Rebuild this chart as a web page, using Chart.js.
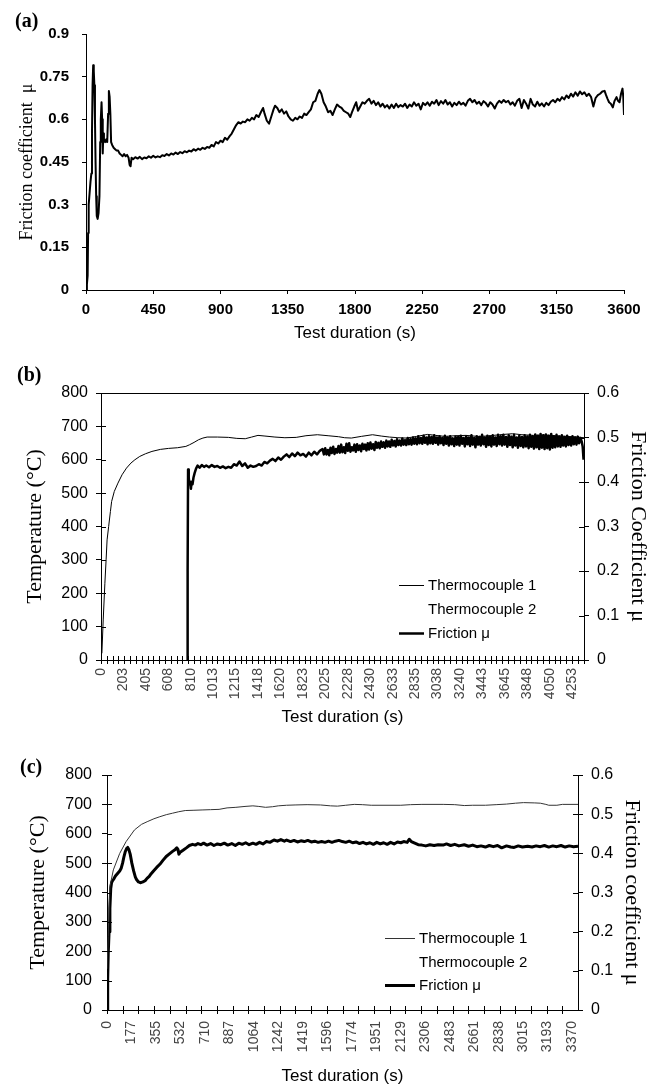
<!DOCTYPE html>
<html>
<head>
<meta charset="utf-8">
<title>Friction coefficient and temperature</title>
<script src="https://cdn.jsdelivr.net/npm/chart.js@4.4.1/dist/chart.umd.min.js"></script>
<style>
  body { margin: 0; background: #fff; }
  #page { position: relative; width: 663px; height: 1088px; }
  canvas { position: absolute; left: 0; }
  .tag { position: absolute; font: bold 20px 'Times New Roman', 'Liberation Serif', serif; line-height: 20px; }
</style>
</head>
<body>
<div id="page">
  <canvas id="chartA" width="663" height="345" style="top:0"></canvas>
  <canvas id="chartB" width="663" height="385" style="top:345px"></canvas>
  <canvas id="chartC" width="663" height="358" style="top:730px"></canvas>
  <div class="tag" style="left:15px;top:10px">(a)</div>
  <div class="tag" style="left:17px;top:364px">(b)</div>
  <div class="tag" style="left:20px;top:756px">(c)</div>
</div>
<script>
// Fontes
const SANS = "Arial, 'Liberation Sans', sans-serif";
const SERIF = "'Times New Roman', 'Liberation Serif', serif";
Chart.defaults.font.family = SANS;
Chart.defaults.color = '#000';

// (a) coeficiente de atrito
const A_XTICKS = [0, 450, 900, 1350, 1800, 2250, 2700, 3150, 3600];
const A_YTICKS = [0, 0.15, 0.3, 0.45, 0.6, 0.75, 0.9];
const A_TIME = [0, 6, 11, 14, 18, 24, 30, 36, 40, 44, 48, 52, 56, 60, 64, 68, 72, 78, 84, 90, 95, 99, 104, 108, 112, 116, 120, 128, 136, 142, 148, 153, 158, 163, 168, 175, 185, 195, 205, 215, 225, 235, 245, 255, 265, 275, 285, 292, 298, 305, 315, 330, 345, 360, 375, 390, 405, 420, 435, 450, 465, 480, 495, 510, 525, 540, 555, 570, 585, 600, 615, 630, 645, 660, 675, 690, 705, 720, 735, 750, 765, 780, 795, 810, 825, 840, 855, 870, 885, 900, 915, 930, 945, 960, 975, 990, 1005, 1020, 1035, 1050, 1065, 1080, 1095, 1110, 1125, 1140, 1155, 1170, 1185, 1195, 1210, 1225, 1240, 1255, 1265, 1280, 1295, 1310, 1325, 1340, 1355, 1370, 1385, 1400, 1415, 1430, 1445, 1460, 1475, 1490, 1505, 1520, 1535, 1550, 1562, 1575, 1590, 1605, 1620, 1635, 1650, 1665, 1680, 1695, 1710, 1725, 1740, 1755, 1768, 1780, 1795, 1808, 1820, 1835, 1850, 1865, 1880, 1895, 1910, 1925, 1940, 1955, 1970, 1985, 2000, 2015, 2030, 2045, 2060, 2075, 2090, 2105, 2120, 2135, 2150, 2165, 2180, 2195, 2210, 2225, 2240, 2255, 2270, 2285, 2300, 2315, 2330, 2345, 2360, 2375, 2390, 2405, 2420, 2435, 2450, 2465, 2480, 2495, 2510, 2525, 2540, 2555, 2570, 2585, 2600, 2615, 2630, 2645, 2660, 2675, 2690, 2705, 2720, 2735, 2750, 2765, 2780, 2795, 2810, 2825, 2840, 2855, 2870, 2885, 2900, 2915, 2930, 2945, 2960, 2975, 2990, 3005, 3020, 3035, 3050, 3065, 3080, 3095, 3110, 3125, 3140, 3155, 3170, 3185, 3200, 3215, 3230, 3245, 3260, 3275, 3290, 3305, 3320, 3335, 3350, 3365, 3380, 3395, 3410, 3425, 3440, 3455, 3470, 3480, 3490, 3500, 3512, 3525, 3537, 3550, 3560, 3570, 3580, 3590, 3595, 3600];
const A_MU = [0, 0.02, 0.05, 0.2, 0.3, 0.34, 0.38, 0.41, 0.55, 0.72, 0.79, 0.77, 0.72, 0.6, 0.45, 0.33, 0.26, 0.25, 0.27, 0.33, 0.52, 0.6, 0.66, 0.6, 0.48, 0.55, 0.53, 0.52, 0.53, 0.52, 0.62, 0.7, 0.68, 0.62, 0.52, 0.51, 0.5, 0.495, 0.49, 0.49, 0.48, 0.475, 0.47, 0.478, 0.47, 0.475, 0.465, 0.44, 0.435, 0.465, 0.46, 0.467, 0.462, 0.468, 0.46, 0.466, 0.463, 0.47, 0.465, 0.472, 0.466, 0.47, 0.467, 0.474, 0.471, 0.478, 0.473, 0.48, 0.476, 0.483, 0.478, 0.485, 0.481, 0.488, 0.484, 0.49, 0.487, 0.495, 0.49, 0.497, 0.493, 0.5, 0.496, 0.503, 0.5, 0.51, 0.505, 0.52, 0.515, 0.525, 0.52, 0.535, 0.528, 0.54, 0.55, 0.565, 0.58, 0.59, 0.585, 0.592, 0.59, 0.6, 0.595, 0.605, 0.6, 0.615, 0.608, 0.625, 0.64, 0.62, 0.595, 0.585, 0.61, 0.635, 0.648, 0.64, 0.625, 0.635, 0.62, 0.628, 0.61, 0.6, 0.595, 0.605, 0.6, 0.61, 0.605, 0.62, 0.615, 0.625, 0.635, 0.66, 0.665, 0.69, 0.703, 0.69, 0.66, 0.645, 0.625, 0.63, 0.615, 0.635, 0.652, 0.645, 0.64, 0.63, 0.625, 0.62, 0.608, 0.625, 0.645, 0.66, 0.63, 0.645, 0.66, 0.655, 0.665, 0.672, 0.655, 0.665, 0.65, 0.66, 0.645, 0.655, 0.642, 0.65, 0.638, 0.652, 0.64, 0.655, 0.643, 0.65, 0.645, 0.655, 0.64, 0.652, 0.645, 0.66, 0.648, 0.655, 0.635, 0.658, 0.65, 0.66, 0.648, 0.662, 0.655, 0.668, 0.65, 0.664, 0.655, 0.668, 0.652, 0.66, 0.645, 0.658, 0.65, 0.662, 0.652, 0.658, 0.648, 0.665, 0.672, 0.66, 0.668, 0.655, 0.662, 0.65, 0.664, 0.657, 0.645, 0.66, 0.652, 0.638, 0.655, 0.665, 0.658, 0.668, 0.66, 0.665, 0.652, 0.66, 0.648, 0.665, 0.672, 0.64, 0.668, 0.655, 0.638, 0.672, 0.652, 0.645, 0.662, 0.648, 0.656, 0.645, 0.658, 0.65, 0.662, 0.668, 0.66, 0.672, 0.665, 0.678, 0.67, 0.684, 0.675, 0.69, 0.68, 0.695, 0.683, 0.698, 0.688, 0.695, 0.682, 0.69, 0.678, 0.645, 0.675, 0.685, 0.69, 0.698, 0.7, 0.685, 0.672, 0.66, 0.655, 0.642, 0.665, 0.678, 0.665, 0.66, 0.69, 0.708, 0.68, 0.615];

// (b) temperatura e atrito
const B_XLABELS = [0, 203, 405, 608, 810, 1013, 1215, 1418, 1620, 1823, 2025, 2228, 2430, 2633, 2835, 3038, 3240, 3443, 3645, 3848, 4050, 4253];
const B_TEMP_TICKS = [0, 100, 200, 300, 400, 500, 600, 700, 800];
const B_MU_TICKS = [0, 0.1, 0.2, 0.3, 0.4, 0.5, 0.6];
const B_TC_TIME = [8, 20, 35, 46, 55, 69, 85, 96, 120, 153, 190, 230, 270, 306, 350, 402, 460, 536, 610, 690, 766, 800, 840, 881, 920, 958, 1050, 1150, 1226, 1302, 1360, 1417, 1480, 1570, 1660, 1762, 1850, 1953, 2050, 2145, 2200, 2260, 2350, 2451, 2530, 2604, 2680, 2758, 2850, 2949, 3020, 3102, 3200, 3294, 3400, 3485, 3600, 3715, 3800, 3907, 4000, 4098, 4200, 4300, 4360];
const B_TC1 = [20, 120, 230, 300, 360, 400, 445, 475, 505, 530, 555, 575, 590, 600, 610, 618, 625, 631, 634, 636, 640, 645, 652, 660, 665, 668, 668, 667, 664, 663, 668, 673, 671, 668, 666, 667, 672, 675, 672, 669, 666, 665, 670, 675, 671, 668, 666, 665, 670, 676, 673, 670, 672, 673, 670, 671, 675, 678, 675, 673, 674, 672, 670, 668, 666];
const B_MU_TIME = [778, 782, 786, 792, 798, 806, 812, 818, 826, 835, 845, 858, 872, 890, 910, 930, 950, 975, 1000, 1025, 1050, 1075, 1100, 1125, 1150, 1175, 1200, 1225, 1250, 1275, 1300, 1325, 1350, 1375, 1400, 1425, 1450, 1475, 1500, 1525, 1550, 1575, 1600, 1625, 1650, 1675, 1700, 1725, 1750, 1775, 1800, 1825, 1850, 1875, 1900, 1925, 1950, 1975,
  2000, 2012, 2024, 2036, 2048, 2060, 2072, 2084, 2096, 2108, 2120, 2132, 2144, 2156, 2168, 2180, 2192, 2204, 2216, 2228, 2240, 2252, 2264, 2276, 2288, 2300, 2312, 2324, 2336, 2348, 2360, 2372, 2384, 2396,
  2408, 2420, 2432, 2444, 2456, 2468, 2480, 2492, 2504, 2516, 2528, 2540, 2552, 2564, 2576, 2588, 2600, 2612, 2624, 2636, 2648, 2660, 2672, 2684, 2696, 2708, 2720, 2732, 2744, 2756, 2768, 2780, 2792,
  2804, 2816, 2828, 2840, 2852, 2864, 2876, 2888, 2900, 2912, 2924, 2936, 2948, 2960, 2972, 2984, 2996, 3008, 3020, 3032, 3044, 3056, 3068, 3080, 3092, 3104, 3116, 3128, 3140, 3152, 3164, 3176, 3188, 3200,
  3212, 3224, 3236, 3248, 3260, 3272, 3284, 3296, 3308, 3320, 3332, 3344, 3356, 3368, 3380, 3392, 3404, 3416, 3428, 3440, 3452, 3464, 3476, 3488, 3500, 3512, 3524, 3536, 3548, 3560, 3572, 3584, 3596,
  3608, 3620, 3632, 3644, 3656, 3668, 3680, 3692, 3704, 3716, 3728, 3740, 3752, 3764, 3776, 3788, 3800, 3812, 3824, 3836, 3848, 3860, 3872, 3884, 3896, 3908, 3920, 3932, 3944, 3956, 3968, 3980, 3992,
  4004, 4016, 4028, 4040, 4052, 4064, 4076, 4088, 4100, 4112, 4124, 4136, 4148, 4160, 4172, 4184, 4196, 4208, 4220, 4232, 4244, 4256, 4268, 4280, 4292, 4304, 4316, 4328, 4340, 4348, 4356];
const B_MU = [0, 0.2, 0.428, 0.41, 0.395, 0.4, 0.385, 0.4, 0.395, 0.41, 0.42, 0.43, 0.437, 0.432, 0.438, 0.434, 0.437, 0.433, 0.438, 0.434, 0.436, 0.432, 0.435, 0.431, 0.434, 0.432, 0.44, 0.437, 0.446, 0.436, 0.442, 0.432, 0.437, 0.434, 0.436, 0.44, 0.437, 0.445, 0.442, 0.448, 0.452, 0.447, 0.455, 0.45, 0.457, 0.462, 0.456, 0.464, 0.458, 0.466, 0.46, 0.463, 0.457, 0.466, 0.46, 0.468, 0.462, 0.47,
  0.474, 0.462, 0.476, 0.462, 0.472, 0.46, 0.477, 0.465, 0.479, 0.463, 0.474, 0.466, 0.481, 0.466, 0.484, 0.467, 0.478, 0.465, 0.486, 0.47, 0.487, 0.468, 0.478, 0.471, 0.484, 0.468, 0.485, 0.472, 0.482, 0.469, 0.486, 0.474, 0.484, 0.471,
  0.487, 0.473, 0.489, 0.475, 0.485, 0.472, 0.49, 0.477, 0.488, 0.476, 0.491, 0.479, 0.489, 0.477, 0.493, 0.48, 0.491, 0.479, 0.495, 0.482, 0.492, 0.48, 0.496, 0.483, 0.493, 0.482, 0.498, 0.484, 0.494, 0.483, 0.499, 0.485, 0.496,
  0.484, 0.5, 0.486, 0.498, 0.485, 0.503, 0.487, 0.499, 0.486, 0.504, 0.488, 0.5, 0.485, 0.503, 0.487, 0.501, 0.486, 0.505, 0.488, 0.5, 0.484, 0.503, 0.487, 0.499, 0.483, 0.504, 0.486, 0.5, 0.482, 0.503, 0.485, 0.498, 0.481, 0.502,
  0.484, 0.501, 0.482, 0.504, 0.486, 0.499, 0.48, 0.503, 0.485, 0.5, 0.481, 0.505, 0.484, 0.499, 0.478, 0.503, 0.484, 0.501, 0.482, 0.506, 0.485, 0.5, 0.479, 0.504, 0.483, 0.502, 0.48, 0.505, 0.484, 0.5, 0.481, 0.506, 0.485,
  0.503, 0.482, 0.506, 0.484, 0.501, 0.479, 0.505, 0.483, 0.502, 0.478, 0.506, 0.482, 0.5, 0.477, 0.504, 0.481, 0.501, 0.478, 0.505, 0.48, 0.502, 0.476, 0.506, 0.479, 0.503, 0.475, 0.507, 0.478, 0.504, 0.474, 0.508, 0.477, 0.505,
  0.474, 0.507, 0.476, 0.504, 0.473, 0.508, 0.477, 0.503, 0.478, 0.506, 0.48, 0.502, 0.479, 0.505, 0.482, 0.501, 0.48, 0.504, 0.483, 0.5, 0.482, 0.503, 0.485, 0.5, 0.484, 0.502, 0.487, 0.499, 0.49, 0.48, 0.45];

// (c) temperatura e atrito
const C_XLABELS = [0, 177, 355, 532, 710, 887, 1064, 1242, 1419, 1596, 1774, 1951, 2129, 2306, 2483, 2661, 2838, 3015, 3193, 3370];
const C_TEMP_TICKS = [0, 100, 200, 300, 400, 500, 600, 700, 800];
const C_MU_TICKS = [0, 0.1, 0.2, 0.3, 0.4, 0.5, 0.6];
const C_TC_TIME = [0, 9, 21, 46, 92, 138, 199, 250, 291, 340, 383, 430, 475, 520, 567, 630, 689, 750, 812, 870, 934, 1000, 1057, 1100, 1149, 1200, 1241, 1300, 1363, 1450, 1547, 1620, 1670, 1730, 1792, 1850, 1915, 2000, 2129, 2200, 2282, 2436, 2520, 2589, 2650, 2742, 2820, 2895, 2960, 3018, 3100, 3140, 3180, 3201, 3260, 3300, 3413];
const C_TC1 = [140, 250, 420, 477, 533, 573, 613, 632, 641, 651, 658, 665, 670, 675, 679, 680, 681, 682, 683, 688, 690, 693, 695, 693, 690, 692, 695, 697, 698, 699, 698, 695, 694, 697, 700, 699, 697, 697, 697, 699, 700, 700, 699, 696, 697, 697, 699, 701, 704, 706, 705, 704, 700, 697, 697, 700, 700];
const C_MU_TIME = [0, 5, 9, 15, 21, 27, 33, 40, 50, 61, 75, 92, 103, 113, 122, 132, 142, 150, 158, 168, 180, 193, 205, 214, 228, 245, 260, 276, 290, 306, 320, 337, 360, 383, 405, 429, 450, 475, 495, 506, 514, 521, 530, 551, 575, 597, 620, 640, 659, 680, 700, 725, 751, 775, 800, 825, 850, 875, 904, 930, 955, 980, 1005, 1030, 1057, 1080, 1105, 1130, 1155, 1180, 1210, 1235, 1260, 1285, 1302, 1330, 1355, 1380, 1405, 1430, 1455, 1480, 1505, 1530, 1555, 1580, 1605, 1630, 1655, 1680, 1705, 1730, 1755, 1780, 1805, 1830, 1855, 1880, 1905, 1930, 1955, 1980, 2005, 2030, 2055, 2080, 2105, 2129, 2150, 2175, 2190, 2205, 2230, 2255, 2282, 2310, 2340, 2370, 2400, 2436, 2460, 2490, 2520, 2550, 2589, 2620, 2650, 2680, 2710, 2742, 2770, 2800, 2830, 2860, 2895, 2925, 2950, 2980, 3010, 3048, 3080, 3110, 3140, 3170, 3201, 3230, 3260, 3290, 3320, 3350, 3380, 3413];
const C_MU = [0, 0.08, 0.145, 0.2, 0.26, 0.31, 0.325, 0.33, 0.335, 0.342, 0.348, 0.355, 0.362, 0.375, 0.39, 0.404, 0.412, 0.415, 0.41, 0.398, 0.375, 0.355, 0.34, 0.333, 0.327, 0.325, 0.327, 0.33, 0.336, 0.341, 0.348, 0.355, 0.364, 0.372, 0.382, 0.392, 0.398, 0.405, 0.41, 0.414, 0.41, 0.398, 0.403, 0.408, 0.414, 0.42, 0.423, 0.421, 0.425, 0.422, 0.426, 0.421, 0.425, 0.42, 0.424, 0.422, 0.426, 0.421, 0.425, 0.42, 0.426, 0.423, 0.427, 0.422, 0.426, 0.423, 0.428, 0.424, 0.43, 0.428, 0.434, 0.431, 0.435, 0.431, 0.434, 0.43, 0.433, 0.429, 0.432, 0.43, 0.433, 0.429, 0.431, 0.428, 0.43, 0.428, 0.431, 0.428, 0.431, 0.433, 0.43, 0.428, 0.431, 0.427, 0.429, 0.425, 0.428, 0.424, 0.427, 0.423, 0.428, 0.424, 0.427, 0.423, 0.428, 0.424, 0.429, 0.427, 0.43, 0.428, 0.436, 0.43, 0.426, 0.422, 0.421, 0.419, 0.422, 0.42, 0.422, 0.421, 0.424, 0.42, 0.423, 0.419, 0.422, 0.418, 0.421, 0.417, 0.419, 0.416, 0.42, 0.417, 0.42, 0.414, 0.419, 0.416, 0.415, 0.419, 0.416, 0.418, 0.416, 0.419, 0.417, 0.42, 0.416, 0.419, 0.417, 0.42, 0.416, 0.419, 0.417, 0.418];

// Montar pontos {x, y}
function pts(xs, ys) {
  return xs.map((x, i) => ({ x: x, y: ys[i] }));
}

// Ticks fixos a partir de uma lista
function fixed(vals) {
  return function (scale) { scale.ticks = vals.map(v => ({ value: v })); };
}

// Legenda dentro da area do grafico
const insideLegend = {
  id: 'insideLegend',
  afterDraw(chart, args, opts) {
    const ctx = chart.ctx;
    const a = chart.chartArea;
    ctx.save();
    ctx.font = opts.font;
    ctx.textBaseline = 'middle';
    ctx.fillStyle = '#000';
    chart.data.datasets.forEach((ds, i) => {
      const x = a.left + opts.x;
      const y = Math.round(a.top + opts.y + i * opts.gap) + 0.5;
      ctx.strokeStyle = ds.borderColor;
      ctx.lineWidth = ds.borderWidth;
      ctx.beginPath();
      ctx.moveTo(x, y);
      ctx.lineTo(x + opts.len, y);
      ctx.stroke();
      ctx.fillText(ds.label, x + opts.len + 4, y);
    });
    ctx.restore();
  }
};

// Marcas cruzadas nos eixos e borda superior
const crossTicks = {
  id: 'crossTicks',
  afterDraw(chart, args, opts) {
    const ctx = chart.ctx;
    const a = chart.chartArea;
    ctx.save();
    ctx.strokeStyle = '#000';
    ctx.lineWidth = 1;
    ctx.beginPath();
    opts.yAxes.forEach(id => {
      const s = chart.scales[id];
      const left = s.position === 'left';
      const edge = left ? a.left : a.right;
      s.ticks.forEach(t => {
        const p = Math.round(s.getPixelForValue(t.value)) + 0.5;
        ctx.moveTo(edge, p);
        ctx.lineTo(edge + (left ? opts.inner : -opts.inner), p);
      });
    });
    const sx = chart.scales.x;
    for (let v = 0; v <= sx.max + 0.001; v += opts.xStep) {
      const p = Math.round(sx.getPixelForValue(v)) + 0.5;
      ctx.moveTo(p, a.bottom - opts.xLen);
      ctx.lineTo(p, a.bottom + opts.xLen);
    }
    if (opts.topBorder) {
      ctx.moveTo(a.left, a.top + 0.5);
      ctx.lineTo(a.right, a.top + 0.5);
    }
    ctx.stroke();
    ctx.restore();
  }
};

// Grafico (a)
new Chart('chartA', {
  type: 'line',
  data: {
    datasets: [{
      label: 'Friction coefficient',
      data: pts(A_TIME, A_MU),
      borderColor: '#000',
      borderWidth: 2,
      borderJoinStyle: 'round',
      pointRadius: 0,
      tension: 0
    }]
  },
  options: {
    responsive: false,
    animation: false,
    events: [],
    layout: { padding: { top: 34, right: 39, left: 0, bottom: 0 } },
    plugins: { legend: { display: false }, tooltip: { enabled: false } },
    scales: {
      x: {
        type: 'linear', min: 0, max: 3600,
        afterBuildTicks: fixed(A_XTICKS),
        afterFit: s => { s.height = 55; },
        grid: { drawOnChartArea: false, tickLength: 4, color: '#000' },
        border: { color: '#000' },
        ticks: { font: { size: 15, weight: 'bold' }, padding: 7, maxRotation: 0, autoSkip: false, callback: v => String(v) },
        title: { display: true, text: 'Test duration (s)', font: { size: 17 }, padding: { bottom: 1 } }
      },
      y: {
        min: 0, max: 0.9,
        afterBuildTicks: fixed(A_YTICKS),
        afterFit: s => { s.width = 86; },
        grid: { drawOnChartArea: false, tickLength: 4, color: '#000' },
        border: { color: '#000' },
        ticks: { font: { size: 15, weight: 'bold' }, padding: 13, callback: v => String(v) },
        title: { display: true, text: 'Friction coefficient  μ', font: { family: SERIF, size: 18 }, padding: { top: 16 } }
      }
    }
  }
});

// Opcoes comuns de (b) e (c)
function dualChart(id, cfg) {
  return new Chart(id, {
    type: 'line',
    data: {
      datasets: [
        { label: 'Thermocouple 1', data: pts(cfg.tcTime, cfg.tc1), yAxisID: 'y', borderColor: cfg.tcColor, borderWidth: 1, pointRadius: 0, tension: 0 },
        { label: 'Thermocouple 2', data: [], yAxisID: 'y', borderColor: '#fff', borderWidth: 1, pointRadius: 0 },
        { label: 'Friction μ', data: pts(cfg.muTime, cfg.mu), yAxisID: 'y1', borderColor: '#000', borderWidth: cfg.muWidth, borderJoinStyle: 'round', pointRadius: 0, tension: 0 }
      ]
    },
    options: {
      responsive: false,
      animation: false,
      events: [],
      layout: { padding: { top: cfg.top, right: 0, left: 0, bottom: 0 } },
      plugins: {
        legend: { display: false },
        tooltip: { enabled: false },
        insideLegend: cfg.legend,
        crossTicks: cfg.cross
      },
      scales: {
        x: {
          type: 'linear', min: 0, max: cfg.xMax,
          afterBuildTicks: fixed(cfg.xLabels),
          afterFit: s => { s.height = cfg.xHeight; },
          grid: { display: false },
          border: { color: '#000' },
          ticks: { font: { size: 14 }, color: '#444', padding: cfg.xPad, minRotation: 90, maxRotation: 90, autoSkip: false, callback: v => String(v) },
          title: { display: true, text: 'Test duration (s)', font: { size: 17 }, padding: { bottom: cfg.titlePad } }
        },
        y: {
          position: 'left', min: 0, max: 800,
          afterBuildTicks: fixed(cfg.tempTicks),
          afterFit: s => { s.width = cfg.left; },
          grid: { drawOnChartArea: false, tickLength: 5, color: '#000' },
          border: { color: '#000' },
          ticks: { font: { size: 16 }, padding: cfg.yPad },
          title: { display: true, text: 'Temperature (°C)', font: { family: SERIF, size: 22 }, padding: { top: cfg.leftTitle } }
        },
        y1: {
          position: 'right', min: 0, max: 0.6,
          afterBuildTicks: fixed(cfg.muTicks),
          afterFit: s => { s.width = cfg.right; },
          grid: { drawOnChartArea: false, tickLength: 5, color: '#000' },
          border: { color: '#000' },
          ticks: { font: { size: 16 }, padding: 8, callback: v => String(v) },
          title: { display: true, text: cfg.rightTitle, font: { family: SERIF, size: 22 }, padding: { top: cfg.rightTitlePad } }
        }
      }
    },
    plugins: [insideLegend, crossTicks]
  });
}

// Grafico (b)
dualChart('chartB', {
  tcTime: B_TC_TIME, tc1: B_TC1, tcColor: '#000',
  muTime: B_MU_TIME, mu: B_MU, muWidth: 2.5,
  xLabels: B_XLABELS, tempTicks: B_TEMP_TICKS, muTicks: B_MU_TICKS,
  xMax: 4360, top: 48, xHeight: 70, xPad: 0, titlePad: 2,
  left: 101, right: 79, yPad: 8, leftTitle: 22,
  rightTitle: 'Friction Coefficient μ', rightTitlePad: 12,
  legend: { x: 298, y: 192, gap: 24, len: 25, font: '15px ' + SANS },
  cross: { yAxes: ['y', 'y1'], inner: 5, xStep: 52.5, xLen: 4, topBorder: true }
});

// Grafico (c)
dualChart('chartC', {
  tcTime: C_TC_TIME, tc1: C_TC1, tcColor: '#333',
  muTime: C_MU_TIME, mu: C_MU, muWidth: 3,
  xLabels: C_XLABELS, tempTicks: C_TEMP_TICKS, muTicks: C_MU_TICKS,
  xMax: 3413, top: 45, xHeight: 78, xPad: 3, titlePad: 1,
  left: 107, right: 85, yPad: 10, leftTitle: 25,
  rightTitle: 'Friction coefficient μ', rightTitlePad: 18,
  legend: { x: 278, y: 163, gap: 23.5, len: 30, font: '15px ' + SANS },
  cross: { yAxes: ['y', 'y1'], inner: 5, xStep: 113.8, xLen: 4, topBorder: false }
});
</script>
</body>
</html>
